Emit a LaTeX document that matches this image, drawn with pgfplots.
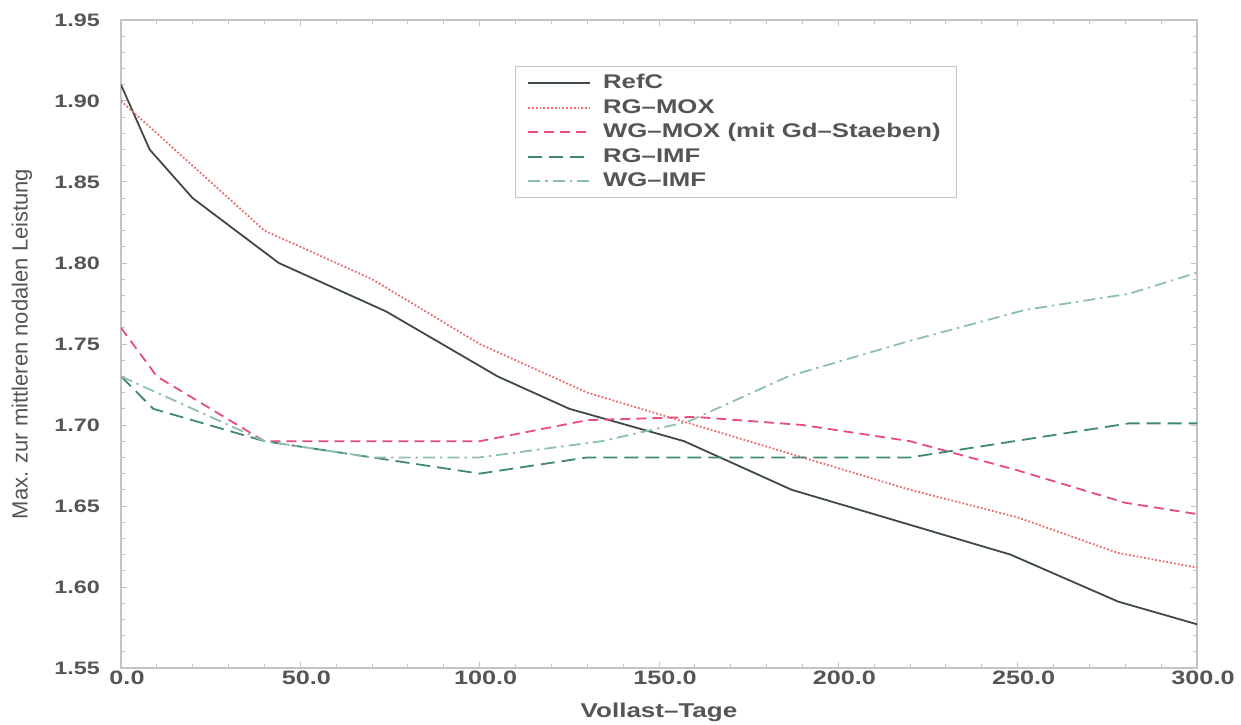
\documentclass[border=0pt]{standalone}
\usepackage{fontspec}
\setmainfont{Liberation Sans}[FakeStretch=1.3]
\newfontfamily\ylabfont{Liberation Sans}
\usepackage{pgfplots}
\pgfplotsset{compat=1.18}

\definecolor{refc}{HTML}{3F4A44}
\definecolor{rgmox}{HTML}{EE6A6A}
\definecolor{wgmox}{HTML}{E84C7C}
\definecolor{rgimf}{HTML}{3F8A6C}
\definecolor{wgimf}{HTML}{8FBFA8}
\definecolor{txt}{HTML}{555555}
\definecolor{frame}{HTML}{C4C4C4}

\begin{document}
\begin{tikzpicture}
\useasboundingbox (-60.5pt,-28pt) rectangle (560pt,334pt);
\begin{axis}[
  at={(0pt,0pt)}, anchor=south west,
  scale only axis, width=538pt, height=324pt,
  xmin=0, xmax=300, ymin=1.55, ymax=1.95,
  xtick={0,50,...,300}, ytick={1.55,1.60,...,1.96},
  minor x tick num=4, minor y tick num=4,
  tick align=inside,
  major tick length=3pt, minor tick length=1.8pt,
  axis line style={frame, line width=0.6pt},
  every tick/.style={frame, line width=0.5pt},
  /pgf/number format/assume math mode=true,
  ticklabel style={font=\bfseries\fontsize{9.7}{11}\selectfont, text=txt},
  yticklabel style={font=\bfseries\fontsize{9}{10}\selectfont, xshift=-7pt,
    /pgf/number format/fixed, /pgf/number format/fixed zerofill,
    /pgf/number format/precision=2},
  xticklabel style={yshift=2pt, xshift=3pt,
    /pgf/number format/fixed, /pgf/number format/fixed zerofill,
    /pgf/number format/precision=1},
  scaled y ticks=false,
  legend cell align=left,
  legend style={at={(0.366,0.929)}, anchor=north west, draw=frame,
    line width=0.5pt, font=\bfseries\fontsize{9.9}{11}\selectfont,
    text=txt, inner xsep=6pt, inner ysep=2pt, row sep=-0.3pt,
    /tikz/every odd column/.append style={column sep=4pt}},
  legend image code/.code={\draw[#1] (0pt,0pt) -- (31pt,0pt);},
  every axis plot/.append style={line width=0.9pt},
]
\addplot[refc, solid] coordinates {
  (0,1.910) (8,1.870) (20,1.840) (44,1.800) (74,1.770) (105,1.730)
  (125,1.710) (157,1.690) (187,1.660) (248,1.620) (278,1.591) (300,1.577)
};
\addlegendentry{RefC}
\addplot[rgmox, densely dotted] coordinates {
  (0,1.900) (40,1.820) (70,1.790) (100,1.750) (130,1.720) (160,1.700)
  (190,1.680) (220,1.660) (250,1.643) (278,1.621) (300,1.612)
};
\addlegendentry{RG--MOX}
\addplot[wgmox, dash pattern=on 5pt off 3pt] coordinates {
  (0,1.760) (10,1.730) (40,1.690) (100,1.690) (130,1.703) (160,1.705)
  (190,1.700) (220,1.690) (250,1.672) (280,1.652) (300,1.645)
};
\addlegendentry{WG--MOX (mit Gd--Staeben)}
\addplot[rgimf, dash pattern=on 7pt off 3.5pt] coordinates {
  (0,1.730) (9,1.710) (40,1.690) (70,1.680) (100,1.670) (130,1.680)
  (220,1.680) (281,1.701) (300,1.701)
};
\addlegendentry{RG--IMF}
\addplot[wgimf, dash pattern=on 6pt off 2.5pt on 1.2pt off 2.5pt] coordinates {
  (0,1.730) (10,1.720) (40,1.690) (70,1.680) (100,1.680) (134,1.690)
  (158,1.702) (186,1.730) (220,1.752) (252,1.771) (281,1.781) (300,1.794)
};
\addlegendentry{WG--IMF}
\end{axis}
\node[font=\bfseries\fontsize{10}{12}\selectfont, text=txt] at (269pt,-22pt) {Vollast--Tage};
\node[rotate=90, font=\ylabfont\fontsize{11}{13}\selectfont, text=txt] at (-49.5pt,162pt)
  {Max. zur mittleren nodalen Leistung};
\end{tikzpicture}
\end{document}
